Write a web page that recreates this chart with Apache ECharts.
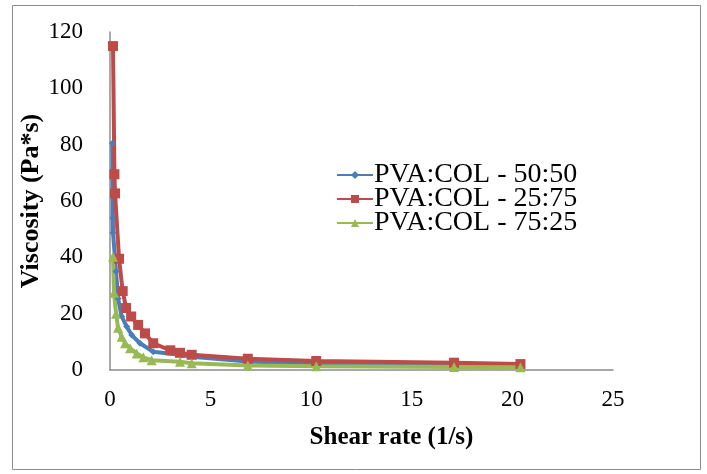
<!DOCTYPE html>
<html><head><meta charset="utf-8">
<script src="https://cdn.jsdelivr.net/npm/echarts@6/dist/echarts.min.js"></script>
<style>html,body{margin:0;padding:0;background:#fff}#c{width:707px;height:474px}</style>
</head><body><div id="c"></div>
<script>
var seriesNames = ['PVA:COL - 50:50', 'PVA:COL - 25:75', 'PVA:COL - 75:25'];
var xTicks = [0, 5, 10, 15, 20, 25];
var yTicks = [0, 20, 40, 60, 80, 100, 120];
var blue = [[0.12,80.5],[0.14,54],[0.15,48.7],[0.3,35],[0.4,25.4],[0.58,19],[0.83,15.4],[1.08,12.4],[1.49,9.5],[2.15,6.5],[3.56,5.3],[4.06,4.7],[6.85,3.0],[10.25,2.2],[17.1,1.6],[20.4,1.4]];
var red = [[0.15,115],[0.22,69.5],[0.25,62.7],[0.45,39.5],[0.63,28],[0.8,22],[1.05,19],[1.4,16],[1.74,13],[2.15,9.5],[3.0,7.0],[3.48,6.1],[4.06,5.4],[6.85,4.0],[10.25,3.2],[17.1,2.6],[20.4,2.1]];
var green = [[0.15,40.2],[0.2,27.4],[0.3,20],[0.4,15],[0.58,11.8],[0.75,9.5],[1.0,7.7],[1.33,5.9],[1.66,4.5],[2.07,3.5],[3.48,2.9],[4.06,2.4],[6.85,1.6],[10.25,1.3],[17.1,1.1],[20.4,1.0]];

var chart = echarts.init(document.getElementById('c'));
var serif = '"Liberation Serif", "DejaVu Serif", serif';
function mk(name, data, color, symbol, size) {
  return {
    name: name, type: 'line', data: data, symbol: symbol, symbolSize: size,
    lineStyle: {color: color, width: 4}, itemStyle: {color: color},
    showSymbol: true, animation: false, z: 2
  };
}
chart.setOption({
  animation: false,
  backgroundColor: '#fff',
  graphic: [{type: 'rect', shape: {x: 12.5, y: 5.5, width: 688, height: 464}, style: {fill: 'none', stroke: '#8c8c8c', lineWidth: 1}, silent: true}],
  grid: {left: 110, right: 94, top: 32, bottom: 104},
  legend: {
    orient: 'vertical', left: 331, top: 156, itemGap: -4, itemWidth: 36, itemHeight: 10,
    textStyle: {fontFamily: serif, fontSize: 28, lineHeight: 23, color: '#000', padding: [0, 0, 0, -4]},
    data: [
      {name: seriesNames[0]},
      {name: seriesNames[1]},
      {name: seriesNames[2]}
    ]
  },
  xAxis: {
    type: 'value', min: xTicks[0], max: xTicks[xTicks.length - 1], interval: 5,
    name: 'Shear rate (1/s)', nameLocation: 'middle', nameGap: 55,
    nameTextStyle: {fontFamily: serif, fontSize: 25, fontWeight: 'bold', color: '#000', padding: [0, 0, 0, 60]},
    axisLine: {lineStyle: {color: '#8c8c8c', width: 1.5}},
    axisTick: {show: false}, splitLine: {show: false},
    axisLabel: {fontFamily: serif, fontSize: 23, color: '#000', margin: 18}
  },
  yAxis: {
    type: 'value', min: yTicks[0], max: yTicks[yTicks.length - 1], interval: 20,
    name: 'Viscosity (Pa*s)', nameLocation: 'middle', nameGap: 66, nameRotate: 90,
    nameMoveOverlap: false,
    nameTextStyle: {fontFamily: serif, fontSize: 26, fontWeight: 'bold', color: '#000'},
    axisLine: {show: true, lineStyle: {color: '#8c8c8c', width: 1.5}},
    axisTick: {show: false}, splitLine: {show: false},
    axisLabel: {fontFamily: serif, fontSize: 23, color: '#000', margin: 27}
  },
  series: [
    mk(seriesNames[0], blue, '#4A7EBB', 'diamond', 7),
    mk(seriesNames[1], red, '#BE4B48', 'rect', 10),
    mk(seriesNames[2], green, '#98B954', 'triangle', 10)
  ]
});
</script></body></html>
